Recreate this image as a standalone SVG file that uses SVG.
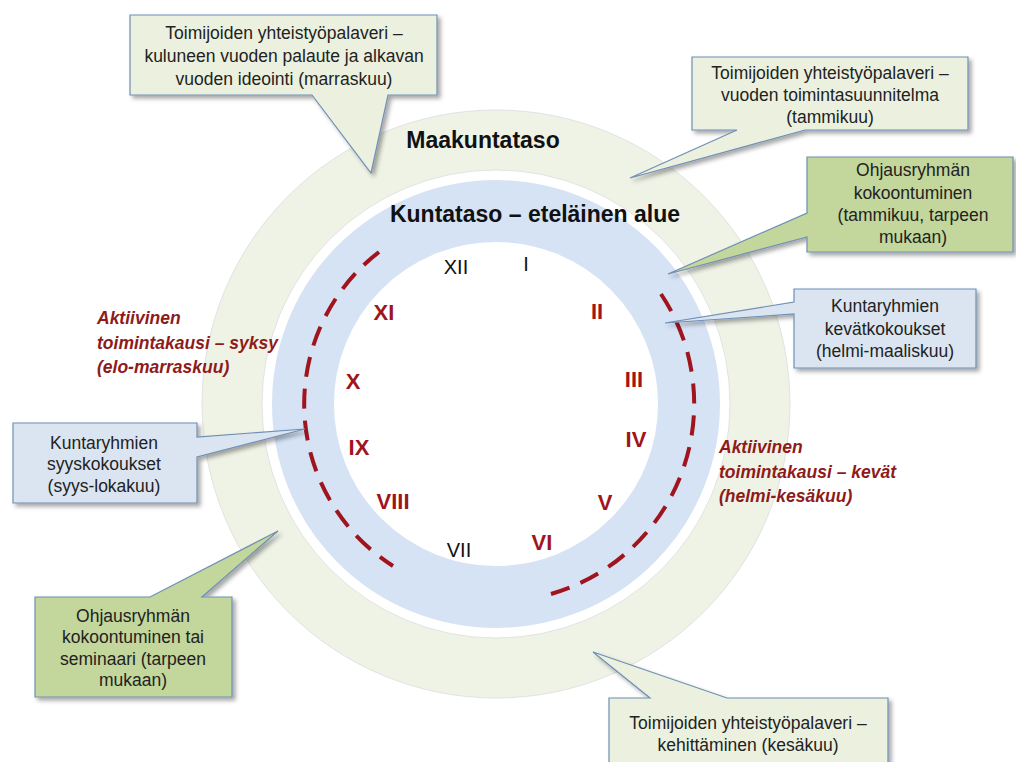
<svg xmlns="http://www.w3.org/2000/svg" width="1016" height="762" viewBox="0 0 1016 762">
  <defs>
    <filter id="shadow" x="-10%" y="-10%" width="125%" height="130%">
      <feDropShadow dx="3" dy="3" stdDeviation="2.2" flood-color="#000" flood-opacity="0.35"/>
    </filter>
    <style>
      .callout { stroke: #6f8fb4; stroke-width: 1.2; filter: url(#shadow); }
      .lg { fill: #ebf1de; }
      .og { fill: #c3d69b; }
      .bl { fill: #dbe5f1; }
      .ct { font-family: "Liberation Sans", Arial, sans-serif; font-size: 17.5px; fill: #222; text-anchor: middle; }
      .num { font-family: "Liberation Sans", Arial, sans-serif; font-size: 20px; text-anchor: middle; }
      .nb { fill: #111; }
      .nr { fill: #a0141e; font-weight: bold; font-size: 22px; }
      .season { font-family: "Liberation Sans", Arial, sans-serif; font-size: 17.5px; font-weight: bold; font-style: italic; fill: #8e1b1b; }
      .title { font-family: "Liberation Sans", Arial, sans-serif; font-size: 23px; font-weight: bold; fill: #111; text-anchor: middle; }
      .dash { fill: none; stroke: #a0141e; stroke-width: 4; stroke-dasharray: 20 12; }
    </style>
  </defs>
  <rect width="1016" height="762" fill="#ffffff"/>

  <g id="rings">
    <circle cx="496" cy="404" r="264" fill="none" stroke="#eff3e6" stroke-width="60"/>
    <circle cx="496" cy="404" r="294" fill="none" stroke="#dcdcdc" stroke-width="0.8"/>
    <circle cx="496" cy="404" r="234" fill="none" stroke="#dcdcdc" stroke-width="0.8"/>
    <circle cx="496" cy="404" r="193" fill="none" stroke="#d6e3f5" stroke-width="62"/>
  </g>

  <g id="titles">
    <text class="title" x="483" y="148">Maakuntataso</text>
    <text class="title" x="535" y="222">Kuntataso – eteläinen alue</text>
  </g>

  <g id="connectors">
    <path class="dash" d="M379,252 A192,192 0 0 0 393,566"/>
    <path class="dash" d="M661,294 A198,198 0 0 1 551,594"/>
  </g>

  <g id="months">
    <text class="num nb" x="456" y="274">XII</text>
    <text class="num nb" x="526" y="271">I</text>
    <text class="num nr" x="597" y="319">II</text>
    <text class="num nr" x="634" y="387">III</text>
    <text class="num nr" x="636" y="447">IV</text>
    <text class="num nr" x="605" y="510">V</text>
    <text class="num nr" x="542" y="550">VI</text>
    <text class="num nb" x="459" y="557">VII</text>
    <text class="num nr" x="393" y="509">VIII</text>
    <text class="num nr" x="359" y="455">IX</text>
    <text class="num nr" x="353" y="389">X</text>
    <text class="num nr" x="384" y="320">XI</text>
  </g>

  <g id="season-autumn">
    <text class="season" x="97" y="324">Aktiivinen</text>
    <text class="season" x="97" y="349">toimintakausi – syksy</text>
    <text class="season" x="97" y="373">(elo-marraskuu)</text>
  </g>
  <g id="season-spring">
    <text class="season" x="719" y="453">Aktiivinen</text>
    <text class="season" x="719" y="478">toimintakausi – kevät</text>
    <text class="season" x="719" y="502">(helmi-kesäkuu)</text>
  </g>

  <g id="callout-marraskuu">
    <path class="callout lg" d="M130,15 H437 V95 H388 L371,173 L312,95 H130 Z"/>
    <text class="ct" x="284" y="39">Toimijoiden yhteistyöpalaveri –</text>
    <text class="ct" x="284" y="62">kuluneen vuoden palaute ja alkavan</text>
    <text class="ct" x="284" y="85">vuoden ideointi (marraskuu)</text>
  </g>

  <g id="callout-tammikuu">
    <path class="callout lg" d="M692,57 H968 V130 H805 L630,178 L737,130 H692 Z"/>
    <text class="ct" x="830" y="79">Toimijoiden yhteistyöpalaveri –</text>
    <text class="ct" x="830" y="101">vuoden toimintasuunnitelma</text>
    <text class="ct" x="830" y="123">(tammikuu)</text>
  </g>

  <g id="callout-ohjaus-tammikuu">
    <path class="callout og" d="M807,157 H1013 V252 H807 V237 L668,274 L807,213 Z"/>
    <text class="ct" x="913" y="176">Ohjausryhmän</text>
    <text class="ct" x="913" y="199">kokoontuminen</text>
    <text class="ct" x="913" y="221">(tammikuu, tarpeen</text>
    <text class="ct" x="913" y="243">mukaan)</text>
  </g>

  <g id="callout-kevatkokoukset">
    <path class="callout bl" d="M794,289 H976 V368 H794 V314 L665,323 L794,302 Z"/>
    <text class="ct" x="885" y="312">Kuntaryhmien</text>
    <text class="ct" x="885" y="335">kevätkokoukset</text>
    <text class="ct" x="885" y="357">(helmi-maaliskuu)</text>
  </g>

  <g id="callout-syyskokoukset">
    <path class="callout bl" d="M13,423 H197 V437 L305,429 L197,457 V503 H13 Z"/>
    <text class="ct" x="104" y="449">Kuntaryhmien</text>
    <text class="ct" x="104" y="470">syyskokoukset</text>
    <text class="ct" x="104" y="492">(syys-lokakuu)</text>
  </g>

  <g id="callout-ohjaus-seminaari">
    <path class="callout og" d="M35,597 H150 L278,531 L202,597 H232 V697 H35 Z"/>
    <text class="ct" x="133" y="622">Ohjausryhmän</text>
    <text class="ct" x="133" y="643">kokoontuminen tai</text>
    <text class="ct" x="133" y="665">seminaari (tarpeen</text>
    <text class="ct" x="133" y="686">mukaan)</text>
  </g>

  <g id="callout-kesakuu">
    <path class="callout lg" d="M609,698 H650 L593,652 L727,698 H888 V775 H609 Z"/>
    <text class="ct" x="748" y="729">Toimijoiden yhteistyöpalaveri –</text>
    <text class="ct" x="748" y="751">kehittäminen (kesäkuu)</text>
  </g>
</svg>
